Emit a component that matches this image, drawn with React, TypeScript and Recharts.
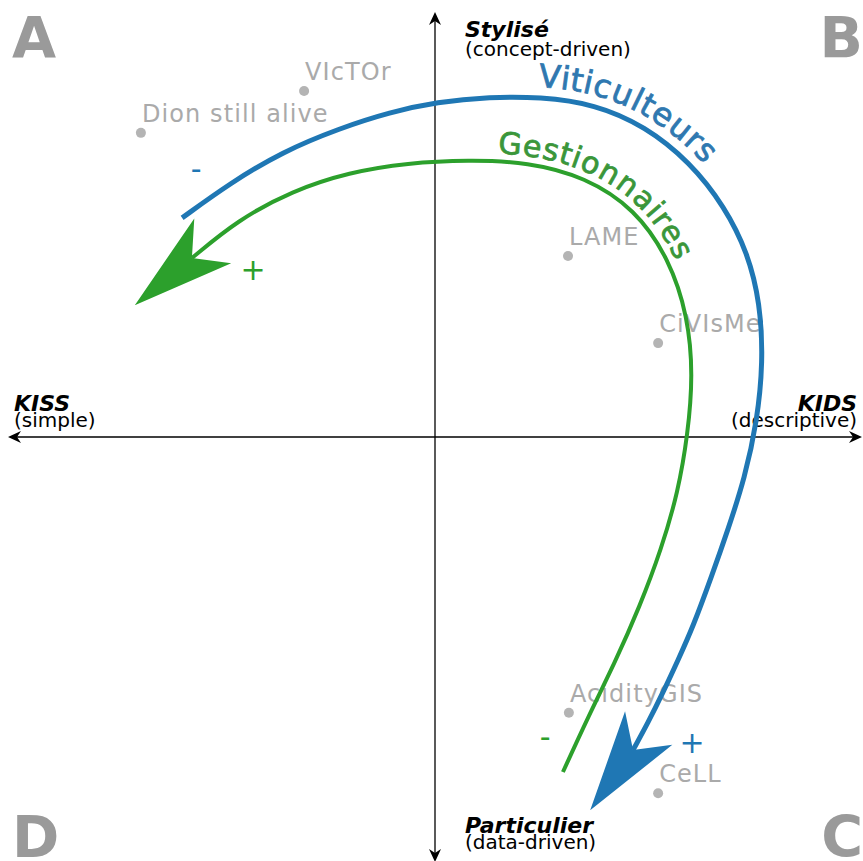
import React from "react";
import { ScatterChart, Scatter, XAxis, YAxis, ReferenceLine } from "recharts";

const W = 863;
const H = 861;
const BLUE = "#1f77b4";
const GREEN = "#2ca02c";
const GREY = "#aaaaaa";
const FONT = "DejaVu Sans, sans-serif";

// projects placed on the KISS/KIDS x Stylisé/Particulier plane
const projects = [
  { name: "VIcTOr", x: -30.8, y: 81.8 },
  { name: "Dion still alive", x: -69.2, y: 71.9 },
  { name: "LAME", x: 31.3, y: 42.8 },
  { name: "CiVIsMe", x: 52.5, y: 22.2 },
  { name: "AcidityGIS", x: 31.5, y: -65.2 },
  { name: "CeLL", x: 52.5, y: -84.2 },
];

// Viticulteurs arrow, from its tail (upper left) to its head (bottom)
const viticulteursCurve = [
  { x: -59.5, y: 51.8 },
  { x: -48.2, y: 60.0 },
  { x: -36.0, y: 67.4 },
  { x: -22.4, y: 73.0 },
  { x: -10.6, y: 76.8 },
  { x: 0.5, y: 79.2 },
  { x: 12.9, y: 80.4 },
  { x: 24.7, y: 80.4 },
  { x: 37.6, y: 78.7 },
  { x: 49.4, y: 73.5 },
  { x: 60.0, y: 65.0 },
  { x: 68.2, y: 54.4 },
  { x: 73.6, y: 43.5 },
  { x: 76.5, y: 31.7 },
  { x: 77.2, y: 17.7 },
  { x: 75.8, y: 3.8 },
  { x: 72.9, y: -9.7 },
  { x: 68.9, y: -22.0 },
  { x: 65.2, y: -32.6 },
  { x: 60.7, y: -44.9 },
  { x: 57.2, y: -52.7 },
  { x: 53.6, y: -60.5 },
  { x: 50.1, y: -67.6 },
  { x: 46.6, y: -74.0 },
];

// Gestionnaires arrow, from its head (upper left) to its tail (bottom)
const gestionnairesCurve = [
  { x: -57.2, y: 42.3 },
  { x: -46.4, y: 51.3 },
  { x: -33.6, y: 58.2 },
  { x: -20.2, y: 62.6 },
  { x: -6.4, y: 64.8 },
  { x: 7.8, y: 65.5 },
  { x: 21.9, y: 65.0 },
  { x: 35.3, y: 61.5 },
  { x: 47.1, y: 53.9 },
  { x: 55.1, y: 42.1 },
  { x: 59.5, y: 28.6 },
  { x: 60.7, y: 14.7 },
  { x: 59.5, y: 0.7 },
  { x: 57.2, y: -13.0 },
  { x: 53.2, y: -26.7 },
  { x: 48.2, y: -40.0 },
  { x: 42.4, y: -53.2 },
  { x: 36.0, y: -66.2 },
  { x: 30.1, y: -79.2 },
];

const signs = [
  { text: "-", group: "viti", x: -56.2, y: 63.4 },
  { text: "+", group: "gest", x: -42.8, y: 39.5 },
  { text: "-", group: "gest", x: 25.9, y: -70.9 },
  { text: "+", group: "viti", x: 60.5, y: -72.3 },
];

const quadrants = [
  { letter: "A", x: -100, y: 100 },
  { letter: "B", x: 100, y: 100 },
  { letter: "C", x: 100, y: -100 },
  { letter: "D", x: -100, y: -100 },
];

const axisTitles = [
  { title: "Stylisé", sub: "(concept-driven)", x: 0, y: 100 },
  { title: "Particulier", sub: "(data-driven)", x: 0, y: -100 },
  { title: "KISS", sub: "(simple)", x: -100, y: 0 },
  { title: "KIDS", sub: "(descriptive)", x: 100, y: 0 },
];

const none = () => <g />;

const ProjectDot = (props: any) => {
  const { cx, cy, payload } = props;
  return (
    <g>
      <circle cx={cx} cy={cy} r={5} fill="#b4b4b4" />
      <text x={cx + 1} y={cy - 11} fontFamily={FONT} fontSize={24} letterSpacing={1.1} fill={GREY}>
        {payload.name}
      </text>
    </g>
  );
};

const QuadrantLetter = (props: any) => {
  const { cx, cy, payload } = props;
  const left = payload.x < 0;
  const top = payload.y > 0;
  return (
    <text
      x={left ? cx + 2 : cx + 3}
      y={top ? cy + 44 : cy - 3}
      textAnchor={left ? "start" : "end"}
      fontFamily={FONT}
      fontWeight="bold"
      fontSize={57}
      fill="#9a9a9a"
    >
      {payload.letter}
    </text>
  );
};

const AxisTitle = (props: any) => {
  const { cx, cy, payload } = props;
  let x = cx + 30;
  let y1 = cy + 23;
  let y2 = cy + 42;
  let anchor: "start" | "end" = "start";
  if (payload.y < 0) {
    y1 = cy - 27;
    y2 = cy - 11;
  }
  if (payload.x !== 0) {
    y1 = cy - 26;
    y2 = cy - 10;
    x = payload.x < 0 ? cx + 4 : cx - 3;
    anchor = payload.x < 0 ? "start" : "end";
  }
  return (
    <g fontFamily={FONT} fill="#000" textAnchor={anchor}>
      <text x={x} y={y1} fontSize={22} fontWeight="bold" fontStyle="italic">
        {payload.title}
      </text>
      <text x={x} y={y2} fontSize={20}>
        {payload.sub}
      </text>
    </g>
  );
};

const Sign = (props: any) => {
  const { cx, cy, payload } = props;
  return (
    <text
      x={cx}
      y={cy}
      textAnchor="middle"
      dominantBaseline="central"
      fontFamily={FONT}
      fontSize={30}
      fill={payload.group === "viti" ? BLUE : GREEN}
    >
      {payload.text}
    </text>
  );
};

export default function App() {
  return (
    <div style={{ position: "absolute", left: 0, top: 0, width: W, height: H, background: "#fff" }}>
      <ScatterChart width={W} height={H} margin={{ top: 14, right: 3, bottom: 1, left: 10 }}>
        <defs>
          <marker id="axisArrow" markerUnits="userSpaceOnUse" orient="auto-start-reverse" refX={0} refY={0} overflow="visible">
            <path d="M2,0 L-11,-6 L-7,0 L-11,6 Z" fill="#000" />
          </marker>
          <marker id="arrowBlue" markerUnits="userSpaceOnUse" orient={125.4} refX={0} refY={0} overflow="visible">
            <path d="M74,0 L-27,-29 L0,0 L-27,29 Z" fill={BLUE} />
          </marker>
          <marker id="arrowGreen" markerUnits="userSpaceOnUse" orient={140.5} refX={0} refY={0} overflow="visible">
            <path d="M74,0 L-27,-29 L0,0 L-27,29 Z" fill={GREEN} />
          </marker>
        </defs>
        <XAxis type="number" dataKey="x" domain={[-100, 100]} hide />
        <YAxis type="number" dataKey="y" domain={[-100, 100]} hide />
        <ReferenceLine y={0} stroke="#000" strokeWidth={1.3} markerStart="url(#axisArrow)" markerEnd="url(#axisArrow)" />
        <ReferenceLine x={0} stroke="#000" strokeWidth={1.3} markerStart="url(#axisArrow)" markerEnd="url(#axisArrow)" />
        <Scatter data={quadrants} shape={QuadrantLetter} isAnimationActive={false} />
        <Scatter data={axisTitles} shape={AxisTitle} isAnimationActive={false} />
        <Scatter data={projects} shape={ProjectDot} isAnimationActive={false} />
        <Scatter
          data={viticulteursCurve}
          fill={BLUE}
          line={{ id: "viti-path", stroke: BLUE, strokeWidth: 5, markerEnd: "url(#arrowBlue)" }}
          lineJointType="basis"
          shape={none}
          isAnimationActive={false}
        />
        <Scatter
          data={gestionnairesCurve}
          fill={GREEN}
          line={{ id: "gest-path", stroke: GREEN, strokeWidth: 4, markerStart: "url(#arrowGreen)" }}
          lineJointType="basis"
          shape={none}
          isAnimationActive={false}
        />
        <Scatter data={signs} shape={Sign} isAnimationActive={false} />
        <text fontFamily={FONT} fontSize={32} fill="#2f78b0" stroke="#2f78b0" strokeWidth={0.8} letterSpacing={0}>
          <textPath href="#viti-path" startOffset={383}>
            <tspan dy={-11}>Viticulteurs</tspan>
          </textPath>
        </text>
        <text fontFamily={FONT} fontSize={30} fill="#3a963a" stroke="#3a963a" strokeWidth={0.8} letterSpacing={0.5}>
          <textPath href="#gest-path" startOffset={329}>
            <tspan dy={-8}>Gestionnaires</tspan>
          </textPath>
        </text>
      </ScatterChart>
    </div>
  );
}
